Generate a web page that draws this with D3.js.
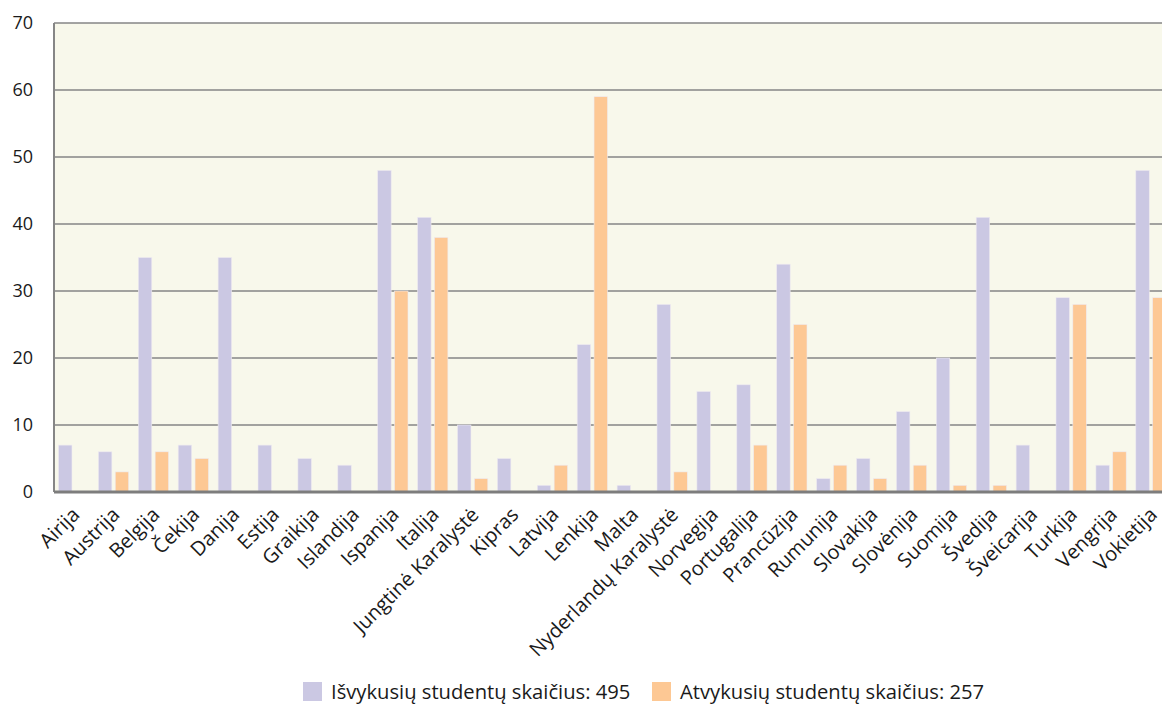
<!DOCTYPE html>
<html>
<head>
<meta charset="utf-8">
<script src="https://cdn.jsdelivr.net/npm/d3@7"></script>
<style>
  body { margin: 0; background: #fff; }
  text { font-family: "Open Sans", Lato, sans-serif; fill: #1a1a1a; }
</style>
</head>
<body>
<svg id="chart" width="1162" height="706"></svg>
<script>
// countries, in the order shown on the x axis
const countries = ["Airija", "Austrija", "Belgija", "Čekija", "Danija", "Estija", "Graikija",
  "Islandija", "Ispanija", "Italija", "Jungtinė Karalystė", "Kipras", "Latvija", "Lenkija",
  "Malta", "Nyderlandų Karalystė", "Norvegija", "Portugalija", "Prancūzija", "Rumunija",
  "Slovakija", "Slovėnija", "Suomija", "Švedija", "Šveicarija", "Turkija", "Vengrija", "Vokietija"];

// outgoing students (purple)
const outgoing = [7, 6, 35, 7, 35, 7, 5, 4, 48, 41, 10, 5, 1, 22, 1, 28, 15, 16, 34, 2, 5, 12, 20, 41, 7, 29, 4, 48];
// incoming students (orange)
const incoming = [0, 3, 6, 5, 0, 0, 0, 0, 30, 38, 2, 0, 4, 59, 0, 3, 0, 7, 25, 4, 2, 4, 1, 1, 0, 28, 6, 29];

const seriesNames = ["Išvykusių studentų skaičius: 495", "Atvykusių studentų skaičius: 257"];
const seriesColours = ["#cbc8e3", "#fdc894"];
const yTicks = [0, 10, 20, 30, 40, 50, 60, 70];

const svg = d3.select("#chart");
const W = 1162;
const plotLeft = 54, plotTop = 23, plotBottom = 492;

const x = d3.scaleBand()
        .domain(countries)
        .range([plotLeft, plotLeft + countries.length * 39.9]);

const x1 = d3.scaleBand()
        .domain([0, 1])
        .range([4.5, 34.8])
        .paddingInner(0.2);

const y = d3.scaleLinear()
        .domain([0, 70])
        .range([plotBottom, plotTop]);

// plot background
svg.append("rect")
        .attr("x", plotLeft)
        .attr("y", plotTop)
        .attr("width", W - plotLeft)
        .attr("height", plotBottom - plotTop)
        .attr("fill", "#f8f8eb");

// gridlines
svg.append("g")
        .selectAll("line")
        .data(yTicks.filter(d => d > 0))
        .join("line")
        .attr("x1", plotLeft)
        .attr("x2", W)
        .attr("y1", d => y(d))
        .attr("y2", d => y(d))
        .attr("stroke", "#868686")
        .attr("stroke-width", 1.5);

// bars
const data = countries.map((c, i) => ({ c: c, v: [outgoing[i], incoming[i]] }));

const groups = svg.append("g")
        .selectAll("g")
        .data(data)
        .join("g")
        .attr("transform", d => "translate(" + x(d.c) + ",0)");

groups.selectAll("rect")
        .data(d => d.v.map((v, k) => ({ k: k, v: v })).filter(e => e.v > 0))
        .join("rect")
        .attr("x", e => x1(e.k))
        .attr("width", x1.bandwidth())
        .attr("y", e => y(e.v))
        .attr("height", e => plotBottom - y(e.v))
        .attr("fill", e => seriesColours[e.k])
        .attr("stroke", "#eeeaf0")
        .attr("stroke-width", 0.6);

// left axis line and bottom axis line
svg.append("line")
        .attr("x1", plotLeft).attr("x2", plotLeft)
        .attr("y1", plotTop).attr("y2", plotBottom)
        .attr("stroke", "#868686")
        .attr("stroke-width", 2);

svg.append("line")
        .attr("x1", plotLeft).attr("x2", W)
        .attr("y1", plotBottom).attr("y2", plotBottom)
        .attr("stroke", "#7d7d7d")
        .attr("stroke-width", 3);

// y tick labels
svg.append("g")
        .selectAll("text")
        .data(yTicks)
        .join("text")
        .attr("x", 33)
        .attr("y", d => y(d) + 6)
        .attr("text-anchor", "end")
        .attr("font-size", "18px")
        .text(d => d);

// x labels, rotated
svg.append("g")
        .selectAll("text")
        .data(countries)
        .join("text")
        .attr("transform", d => "translate(" + (x(d) + x.bandwidth() / 2 + 7) + ",516) rotate(-45)")
        .attr("text-anchor", "end")
        .attr("font-size", "20px")
        .text(d => d);

// legend
const legendX = [303, 652];
const legend = svg.append("g")
        .selectAll("g")
        .data(seriesNames)
        .join("g")
        .attr("transform", (d, i) => "translate(" + legendX[i] + ",682)");

legend.append("rect")
        .attr("width", 19)
        .attr("height", 19)
        .attr("fill", (d, i) => seriesColours[i]);

legend.append("text")
        .attr("x", 28)
        .attr("y", 17)
        .attr("font-size", "20.2px")
        .text(d => d);
</script>
</body>
</html>
